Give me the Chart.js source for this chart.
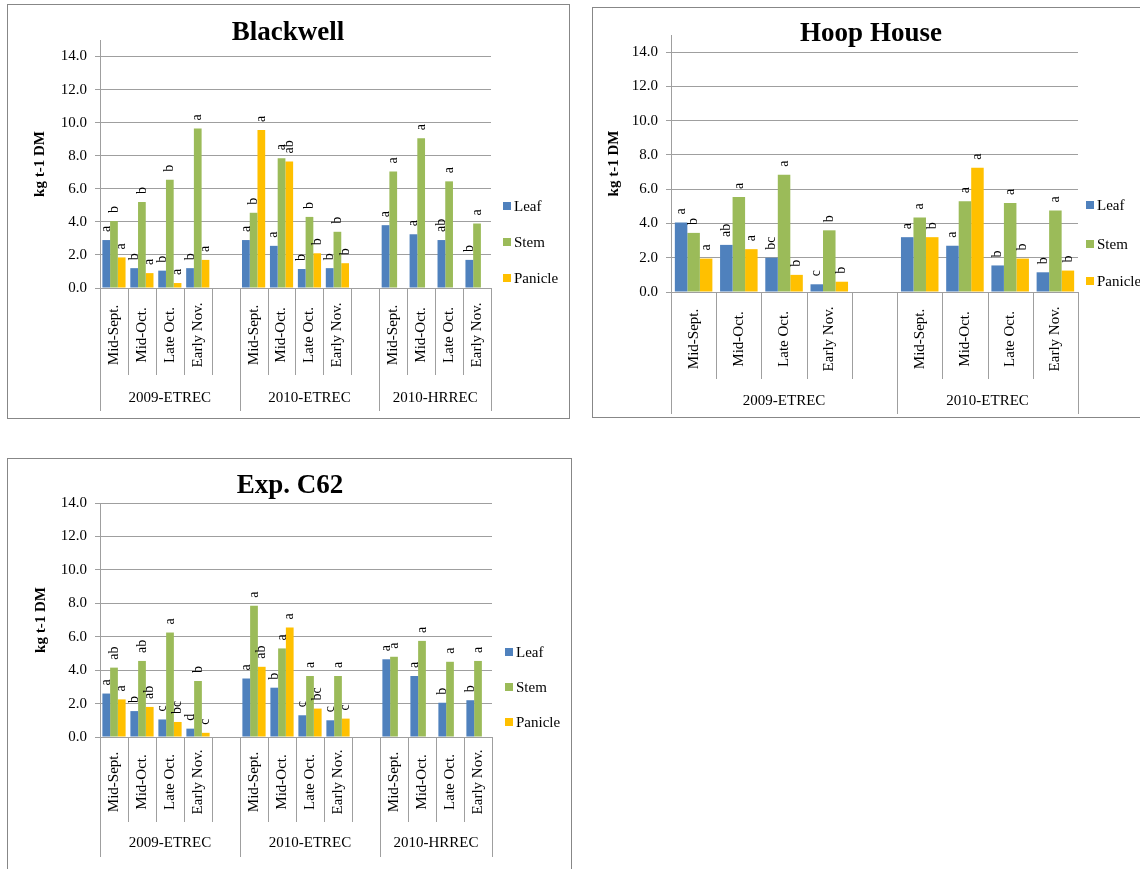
<!DOCTYPE html>
<html>
<head>
<meta charset="utf-8">
<title>Leaf, stem and panicle dry matter</title>
<script src="https://cdn.jsdelivr.net/npm/chart.js@4/dist/chart.umd.min.js"></script>
<style>
  html, body { margin: 0; padding: 0; background: #ffffff; width: 1140px; height: 869px; overflow: hidden; }
  canvas { position: absolute; }
  .panel { position: absolute; box-sizing: border-box; border: 1px solid #878787; pointer-events: none; }
</style>
</head>
<body>
<script>
// ---- shared labels ----
const SERIES = ['Leaf', 'Stem', 'Panicle'];
const SERIES_COLORS = ['#4F81BD', '#9BBB59', '#FFC000'];
const PERIODS = ['Mid-Sept.', 'Mid-Oct.', 'Late Oct.', 'Early Nov.'];
const Y_TICKS = [0, 2, 4, 6, 8, 10, 12, 14];
const Y_TITLE = 'kg t-1 DM';

// ---- Blackwell ----
const blackwellGroups = ['2009-ETREC', '2010-ETREC', '2010-HRREC'];
const blackwellLeaf    = [2.9, 1.2, 1.05, 1.2,   2.9, 2.55, 1.15, 1.2,   3.8, 3.25, 2.9, 1.7];
const blackwellStem    = [4.05, 5.2, 6.55, 9.65, 4.55, 7.85, 4.3, 3.4,  7.05, 9.05, 6.45, 3.9];
const blackwellPanicle = [1.85, 0.9, 0.3, 1.7,   9.55, 7.65, 2.1, 1.5,  null, null, null, null];
const blackwellLeafSig    = ['a', 'b', 'b', 'b',  'a', 'a', 'b', 'b',   'a', 'a', 'ab', 'b'];
const blackwellStemSig    = ['b', 'b', 'b', 'a',  'b', 'a', 'b', 'b',   'a', 'a', 'a', 'a'];
const blackwellPanicleSig = ['a', 'a', 'a', 'a',  'a', 'ab', 'b', 'b',  '', '', '', ''];

// ---- Hoop House ----
const hoopGroups = ['2009-ETREC', '2010-ETREC'];
const hoopLeaf    = [4.05, 2.75, 2.0, 0.45,  3.2, 2.7, 1.55, 1.15];
const hoopStem    = [3.45, 5.55, 6.85, 3.6,  4.35, 5.3, 5.2, 4.75];
const hoopPanicle = [1.95, 2.5, 1.0, 0.6,    3.2, 7.25, 1.95, 1.25];
const hoopLeafSig    = ['a', 'ab', 'bc', 'c',  'a', 'a', 'b', 'b'];
const hoopStemSig    = ['b', 'a', 'a', 'b',    'a', 'a', 'a', 'a'];
const hoopPanicleSig = ['a', 'a', 'b', 'b',    'b', 'a', 'b', 'b'];

// ---- Exp. C62 ----
const c62Groups = ['2009-ETREC', '2010-ETREC', '2010-HRREC'];
const c62Leaf    = [2.6, 1.55, 1.05, 0.5,   3.5, 2.95, 1.3, 1.0,   4.65, 3.65, 2.05, 2.2];
const c62Stem    = [4.15, 4.55, 6.25, 3.35, 7.85, 5.3, 3.65, 3.65, 4.8, 5.75, 4.5, 4.55];
const c62Panicle = [2.25, 1.8, 0.9, 0.25,   4.2, 6.55, 1.7, 1.1,   null, null, null, null];
const c62LeafSig    = ['a', 'b', 'c', 'd',     'a', 'b', 'c', 'c',    'a', 'a', 'b', 'b'];
const c62StemSig    = ['ab', 'ab', 'a', 'b',   'a', 'a', 'a', 'a',    'a', 'a', 'a', 'a'];
const c62PanicleSig = ['a', 'ab', 'bc', 'c',   'ab', 'a', 'bc', 'c',  '', '', '', ''];

const SERIF = "'Liberation Serif', 'Times New Roman', serif";
const GRID = '#9f9f9f';

// Insert an empty category between site/year groups, the way a two-level axis spaces them.
function spaced(values, nGroups, blank) {
  const out = [];
  for (let g = 0; g < nGroups; g++) {
    for (let j = 0; j < PERIODS.length; j++) {
      const v = values[g * PERIODS.length + j];
      out.push(v === undefined ? blank : v);
    }
    if (g < nGroups - 1) out.push(blank);
  }
  return out;
}

function decorations(spec) {
  return {
    id: 'decor_' + spec.id,
    afterDatasetsDraw(chart) {
      // significance letters above each bar, rotated
      const ctx = chart.ctx;
      ctx.save();
      ctx.fillStyle = '#000';
      ctx.font = '14px ' + SERIF;
      ctx.textAlign = 'left';
      ctx.textBaseline = 'middle';
      chart.data.datasets.forEach((ds, k) => {
        const meta = chart.getDatasetMeta(k);
        meta.data.forEach((bar, i) => {
          const letter = spec.sigs[k][i];
          if (!letter || ds.data[i] == null) return;
          ctx.save();
          ctx.translate(bar.x, bar.y - 8);
          ctx.rotate(-Math.PI / 2);
          ctx.fillText(letter, 0, 0);
          ctx.restore();
        });
      });
      ctx.restore();
    },
    afterDraw(chart) {
      const ctx = chart.ctx;
      const xs = chart.scales.x;
      const area = chart.chartArea;
      const labels = chart.data.labels;
      const n = labels.length;
      const step = xs.getPixelForValue(1) - xs.getPixelForValue(0);
      const edge = i => (i < n ? xs.getPixelForValue(i) - step / 2 : xs.getPixelForValue(n - 1) + step / 2);
      const groupSize = PERIODS.length + 1;
      const isGroupEdge = i => i === n || i % groupSize === 0;

      ctx.save();
      // title
      ctx.fillStyle = '#000';
      ctx.font = 'bold 27px ' + SERIF;
      ctx.textAlign = 'center';
      ctx.textBaseline = 'middle';
      ctx.fillText(spec.title, spec.titleX, spec.titleY);

      // legend
      ctx.font = '15px ' + SERIF;
      ctx.textAlign = 'left';
      SERIES.forEach((name, k) => {
        const y = spec.legendY[k];
        ctx.fillStyle = SERIES_COLORS[k];
        ctx.fillRect(spec.legendX, y - 4, 8, 8);
        ctx.fillStyle = '#000';
        ctx.fillText(name, spec.legendX + 11, y + 1);
      });

      // category separators below the axis
      ctx.strokeStyle = GRID;
      ctx.lineWidth = 1;
      ctx.beginPath();
      for (let i = 0; i <= n; i++) {
        const x = Math.round(edge(i)) + 0.5;
        ctx.moveTo(x, area.bottom);
        ctx.lineTo(x, area.bottom + (isGroupEdge(i) ? spec.groupLine : spec.catLine));
      }
      ctx.stroke();

      // period labels, rotated
      ctx.fillStyle = '#000';
      ctx.font = '15px ' + SERIF;
      ctx.textAlign = 'center';
      ctx.textBaseline = 'middle';
      labels.forEach((lab, i) => {
        if (!lab) return;
        ctx.save();
        ctx.translate(xs.getPixelForValue(i), area.bottom + spec.labelMid);
        ctx.rotate(-Math.PI / 2);
        ctx.fillText(lab, 0, 0);
        ctx.restore();
      });

      // group labels
      spec.groups.forEach((g, gi) => {
        const a = edge(gi * groupSize);
        const b = edge(Math.min((gi + 1) * groupSize, n));
        ctx.fillText(g, (a + b) / 2, area.bottom + spec.groupLabelY);
      });
      ctx.restore();
    }
  };
}

function buildChart(spec) {
  const panel = document.createElement('div');
  panel.className = 'panel';
  Object.assign(panel.style, { left: spec.box.x + 'px', top: spec.box.y + 'px', width: spec.box.w + 'px', height: spec.box.h + 'px' });
  const canvas = document.createElement('canvas');
  canvas.width = spec.box.w;
  canvas.height = spec.box.h;
  Object.assign(canvas.style, { left: spec.box.x + 'px', top: spec.box.y + 'px', width: spec.box.w + 'px', height: spec.box.h + 'px' });
  document.body.appendChild(canvas);
  document.body.appendChild(panel);

  const nG = spec.groups.length;
  const labels = spaced(PERIODS.concat(PERIODS, PERIODS).slice(0, nG * PERIODS.length), nG, '');
  const values = spec.values.map(v => spaced(v, nG, null));
  spec.sigs = spec.sigValues.map(s => spaced(s, nG, ''));

  return new Chart(canvas.getContext('2d'), {
    type: 'bar',
    data: {
      labels: labels,
      datasets: SERIES.map((name, k) => ({
        label: name,
        data: values[k],
        backgroundColor: SERIES_COLORS[k],
        borderWidth: 0,
        categoryPercentage: 0.83,
        barPercentage: 1.0
      }))
    },
    options: {
      responsive: false,
      animation: false,
      events: [],
      layout: { padding: { left: 0, top: spec.area.t, right: spec.box.w - spec.area.r, bottom: spec.box.h - spec.area.b } },
      plugins: { legend: { display: false }, title: { display: false }, tooltip: { enabled: false } },
      scales: {
        x: { display: false },
        y: {
          min: 0,
          max: spec.yMax,
          afterFit(scale) { scale.width = spec.area.l; },
          afterBuildTicks(scale) { scale.ticks = Y_TICKS.map(v => ({ value: v })); },
          ticks: {
            padding: 8,
            color: '#000',
            font: { family: SERIF, size: 15 },
            callback: v => Number(v).toFixed(1)
          },
          grid: { color: GRID, lineWidth: 1, drawTicks: true, tickLength: 5, tickColor: GRID },
          border: { display: true, color: GRID, width: 1 },
          title: {
            display: true,
            text: Y_TITLE,
            color: '#000',
            font: { family: SERIF, size: 15, weight: 'bold', lineHeight: 1.2 },
            padding: { top: spec.yTitlePad, bottom: 0 }
          }
        }
      }
    },
    plugins: [decorations(spec)]
  });
}

buildChart({
  id: 'blackwell', title: 'Blackwell',
  box: { x: 7, y: 4, w: 563, h: 415 },
  area: { l: 93, r: 484, t: 36, b: 284 },
  yMax: 15, yTitlePad: 24,
  titleX: 281, titleY: 29,
  legendX: 496, legendY: [202, 238, 274],
  catLine: 87, groupLine: 123, labelMid: 47, groupLabelY: 110,
  groups: blackwellGroups,
  values: [blackwellLeaf, blackwellStem, blackwellPanicle],
  sigValues: [blackwellLeafSig, blackwellStemSig, blackwellPanicleSig]
});

buildChart({
  id: 'hoop', title: 'Hoop House',
  box: { x: 592, y: 7, w: 560, h: 411 },
  area: { l: 79, r: 486, t: 28, b: 285 },
  yMax: 15, yTitlePad: 13,
  titleX: 279, titleY: 27,
  legendX: 494, legendY: [198, 237, 274],
  catLine: 87, groupLine: 122, labelMid: 47, groupLabelY: 109,
  groups: hoopGroups,
  values: [hoopLeaf, hoopStem, hoopPanicle],
  sigValues: [hoopLeafSig, hoopStemSig, hoopPanicleSig]
});

buildChart({
  id: 'c62', title: 'Exp. C62',
  box: { x: 7, y: 458, w: 565, h: 420 },
  area: { l: 93, r: 485, t: 45, b: 279 },
  yMax: 14, yTitlePad: 25,
  titleX: 283, titleY: 28,
  legendX: 498, legendY: [194, 229, 264],
  catLine: 85, groupLine: 120, labelMid: 45, groupLabelY: 106,
  groups: c62Groups,
  values: [c62Leaf, c62Stem, c62Panicle],
  sigValues: [c62LeafSig, c62StemSig, c62PanicleSig]
});
</script>
</body>
</html>
